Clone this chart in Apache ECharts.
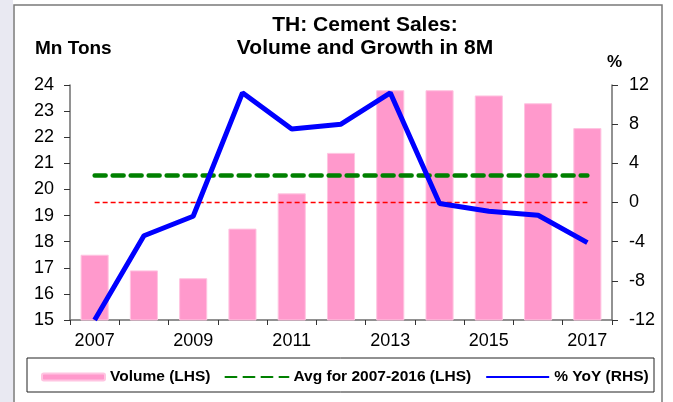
<!DOCTYPE html>
<html>
<head>
<meta charset="utf-8">
<script src="https://cdn.jsdelivr.net/npm/echarts@6/dist/echarts.min.js"></script>
<style>
html,body{margin:0;padding:0;background:#fff;}
#c{width:673px;height:402px;}
</style>
</head>
<body>
<div id="c"></div>
<script>
const years = ['2007','2008','2009','2010','2011','2012','2013','2014','2015','2016','2017'];
const volume = [17.5, 16.9, 16.6, 18.5, 19.85, 21.4, 23.8, 23.8, 23.6, 23.3, 22.35];
const yoy = [-12, -3.4, -1.4, 11.2, 7.5, 8.0, 11.2, -0.1, -0.9, -1.3, -4.1];
const avg0716 = [20.53, 20.53, 20.53, 20.53, 20.53, 20.53, 20.53, 20.53, 20.53, 20.53, 20.53];
const zeroLine = [0, 0, 0, 0, 0, 0, 0, 0, 0, 0, 0];
const leftTicks = { min: 15, max: 24, step: 1 };
const rightTicks = { min: -12, max: 12, step: 4 };

const FONT = 'Liberation Sans, Arial, sans-serif';
const chart = echarts.init(document.getElementById('c'), null, { renderer: 'canvas' });

const axisLineStyle = { color: '#6e6e6e', width: 1.5 };

chart.setOption({
  animation: false,
  backgroundColor: '#ffffff',
  textStyle: { fontFamily: FONT, color: '#000' },
  title: {
    text: 'TH: Cement Sales:\nVolume and Growth in 8M',
    left: 360, top: 9, textAlign: 'center',
    textStyle: { fontFamily: FONT, fontSize: 21, fontWeight: 'bold', color: '#000', lineHeight: 23 }
  },
  graphic: [
    { type: 'rect', z: -10, shape: { x: 0, y: 0, width: 13, height: 402 }, style: { fill: '#e9e9f2' }, silent: true },
    { type: 'rect', z: -5, shape: { x: 14, y: 5, width: 648, height: 400 }, style: { fill: 'none', stroke: '#7a7a7a', lineWidth: 1.5 }, silent: true },
    { type: 'rect', z: -5, shape: { x: 27, y: 358, width: 627, height: 34 }, style: { fill: '#fff', stroke: '#222', lineWidth: 1 }, silent: true },
    { type: 'text', left: 35, top: 39, style: { text: 'Mn Tons', font: 'bold 19px ' + FONT, fill: '#000' } },
    { type: 'text', left: 607, top: 54, style: { text: '%', font: 'bold 17px ' + FONT, fill: '#000' } }
  ],
  legend: {
    data: [
      { name: 'Volume (LHS)' },
      { name: 'Avg for 2007-2016 (LHS)', itemStyle: { opacity: 0 } },
      { name: '% YoY (RHS)', itemStyle: { opacity: 0 } }
    ],
    left: 36, top: 364,
    itemWidth: 63, itemHeight: 7, itemGap: 14,
    textStyle: { fontFamily: FONT, fontSize: 15.5, fontWeight: 'bold', color: '#000' },
    selectedMode: false
  },
  grid: { left: 70, right: 61, top: 85, bottom: 82, containLabel: false },
  xAxis: {
    type: 'category', data: years, boundaryGap: true,
    axisLine: { onZero: false, lineStyle: axisLineStyle },
    axisTick: { show: true, interval: 0, length: 5, lineStyle: { color: '#333' } },
    axisLabel: { interval: 1, fontSize: 18, color: '#000', margin: 12, fontFamily: FONT },
    splitLine: { show: false }
  },
  yAxis: [
    {
      type: 'value', position: 'left', min: leftTicks.min, max: leftTicks.max, interval: leftTicks.step,
      axisLine: { show: true, lineStyle: axisLineStyle },
      axisTick: { show: true, length: 6, lineStyle: { color: '#333' } },
      axisLabel: { fontSize: 18, color: '#000', margin: 16, fontFamily: FONT },
      splitLine: { show: false }
    },
    {
      type: 'value', position: 'right', min: rightTicks.min, max: rightTicks.max, interval: rightTicks.step,
      axisLine: { show: true, lineStyle: axisLineStyle },
      axisTick: { show: true, length: 6, lineStyle: { color: '#333' } },
      axisLabel: { fontSize: 18, color: '#000', margin: 17, fontFamily: FONT },
      splitLine: { show: false }
    }
  ],
  series: [
    {
      name: 'Volume (LHS)', type: 'bar', data: volume, yAxisIndex: 0,
      barWidth: '57%',
      itemStyle: { color: '#ff99cc', borderColor: '#ffc4e1', borderWidth: 1 },
      z: 1
    },
    {
      name: 'zero', type: 'line', data: zeroLine, yAxisIndex: 1,
      symbol: 'none', lineStyle: { color: '#ff0000', width: 1.5, type: [5, 3] }, z: 2
    },
    {
      name: 'Avg for 2007-2016 (LHS)', type: 'line', data: avg0716, yAxisIndex: 0,
      symbol: 'none', lineStyle: { color: '#008000', width: 4.5, type: [11, 7], cap: 'round' },
      itemStyle: { color: '#008000' }, z: 3
    },
    {
      name: '% YoY (RHS)', type: 'line', data: yoy, yAxisIndex: 1,
      symbol: 'none', lineStyle: { color: '#0000ff', width: 5 },
      itemStyle: { color: '#0000ff' }, z: 4
    }
  ]
});
</script>
</body>
</html>
